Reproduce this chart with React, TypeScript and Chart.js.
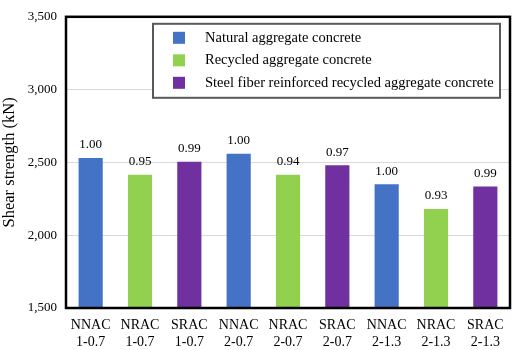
import React, { useEffect, useRef } from "react";
import { Chart, registerables } from "chart.js";

Chart.register(...registerables);

const categories: string[][] = [
  ["NNAC", "1-0.7"],
  ["NRAC", "1-0.7"],
  ["SRAC", "1-0.7"],
  ["NNAC", "2-0.7"],
  ["NRAC", "2-0.7"],
  ["SRAC", "2-0.7"],
  ["NNAC", "2-1.3"],
  ["NRAC", "2-1.3"],
  ["SRAC", "2-1.3"],
];
const seriesNames = [
  "Natural aggregate concrete",
  "Recycled aggregate concrete",
  "Steel fiber reinforced recycled aggregate concrete",
];
const seriesColors = ["#4472C4", "#92D050", "#7030A0"];
const naturalValues = [2530, null, null, 2560, null, null, 2350, null, null];
const recycledValues = [null, 2415, null, null, 2415, null, null, 2180, null];
const steelFiberValues = [null, null, 2505, null, null, 2480, null, null, 2335];
const ratioLabels = ["1.00", "0.95", "0.99", "1.00", "0.94", "0.97", "1.00", "0.93", "0.99"];
const yMin = 1500;
const yMax = 3500;
const yStep = 500;

const FONT = "'Liberation Serif', 'Times New Roman', serif";

const overlayPlugin = {
  id: "overlay",
  afterDatasetsDraw(chart: any) {
    const ctx = chart.ctx;
    ctx.save();
    ctx.font = `13px ${FONT}`;
    ctx.fillStyle = "#000";
    ctx.textAlign = "center";
    ctx.textBaseline = "middle";
    chart.data.datasets.forEach((ds: any, di: number) => {
      const meta = chart.getDatasetMeta(di);
      ds.data.forEach((v: any, i: number) => {
        if (v == null) return;
        const el = meta.data[i];
        ctx.fillText(ratioLabels[i], el.x, el.y - 13);
      });
    });
    ctx.restore();
  },
  afterDraw(chart: any) {
    const ctx = chart.ctx;
    const a = chart.chartArea;
    ctx.save();
    // plot border
    ctx.strokeStyle = "#000";
    ctx.lineWidth = 2.5;
    ctx.strokeRect(a.left, a.top, a.right - a.left, a.bottom - a.top);
    // legend box
    const bx = a.left + 87;
    const by = a.top + 7;
    const bw = a.right - 10 - bx;
    const bh = 74;
    ctx.fillStyle = "#fff";
    ctx.fillRect(bx, by, bw, bh);
    ctx.strokeStyle = "#595959";
    ctx.lineWidth = 2;
    ctx.strokeRect(bx, by, bw, bh);
    ctx.font = `14.5px ${FONT}`;
    ctx.textAlign = "left";
    ctx.textBaseline = "middle";
    chart.data.datasets.forEach((ds: any, di: number) => {
      const cy = by + 14 + di * 22.5;
      ctx.fillStyle = ds.backgroundColor;
      ctx.fillRect(bx + 20, cy - 6, 12, 12);
      ctx.fillStyle = "#000";
      ctx.fillText(ds.label, bx + 52, cy);
    });
    ctx.restore();
  },
};

export default function App() {
  const ref = useRef<HTMLCanvasElement>(null);
  useEffect(() => {
    document.body.style.margin = "0";
    const chart = new Chart(ref.current!, {
      type: "bar",
      data: {
        labels: categories,
        datasets: [naturalValues, recycledValues, steelFiberValues].map((d, i) => ({
          label: seriesNames[i],
          data: d,
          backgroundColor: seriesColors[i],
          borderWidth: 0,
          skipNull: true,
          categoryPercentage: 1,
          barPercentage: 0.49,
        })) as any,
      },
      options: {
        responsive: false,
        animation: false,
        layout: { padding: { top: 6, right: 3, left: 0, bottom: 0 } },
        plugins: { legend: { display: false }, tooltip: { enabled: false } },
        scales: {
          x: {
            grid: { display: false, drawTicks: false },
            border: { display: false },
            ticks: { color: "#000", font: { family: FONT, size: 14 }, padding: 9, maxRotation: 0 },
            afterFit: (s: any) => {
              s.height = 42;
            },
          },
          y: {
            min: yMin,
            max: yMax,
            grid: { color: "#d9d9d9", lineWidth: 1, drawTicks: false },
            border: { display: false },
            ticks: {
              stepSize: yStep,
              color: "#000",
              font: { family: FONT, size: 13 },
              padding: 9,
              callback: (v: any) => Number(v).toLocaleString("en-US"),
            },
            title: {
              display: true,
              text: "Shear strength (kN)",
              color: "#000",
              font: { family: FONT, size: 16.5 },
              padding: 0,
            },
            afterFit: (s: any) => {
              s.width = 66;
            },
          },
        },
      },
      plugins: [overlayPlugin],
    });
    return () => chart.destroy();
  }, []);
  return (
    <div style={{ width: 513, height: 350 }}>
      <canvas ref={ref} width={513} height={350} style={{ display: "block" }} />
    </div>
  );
}
